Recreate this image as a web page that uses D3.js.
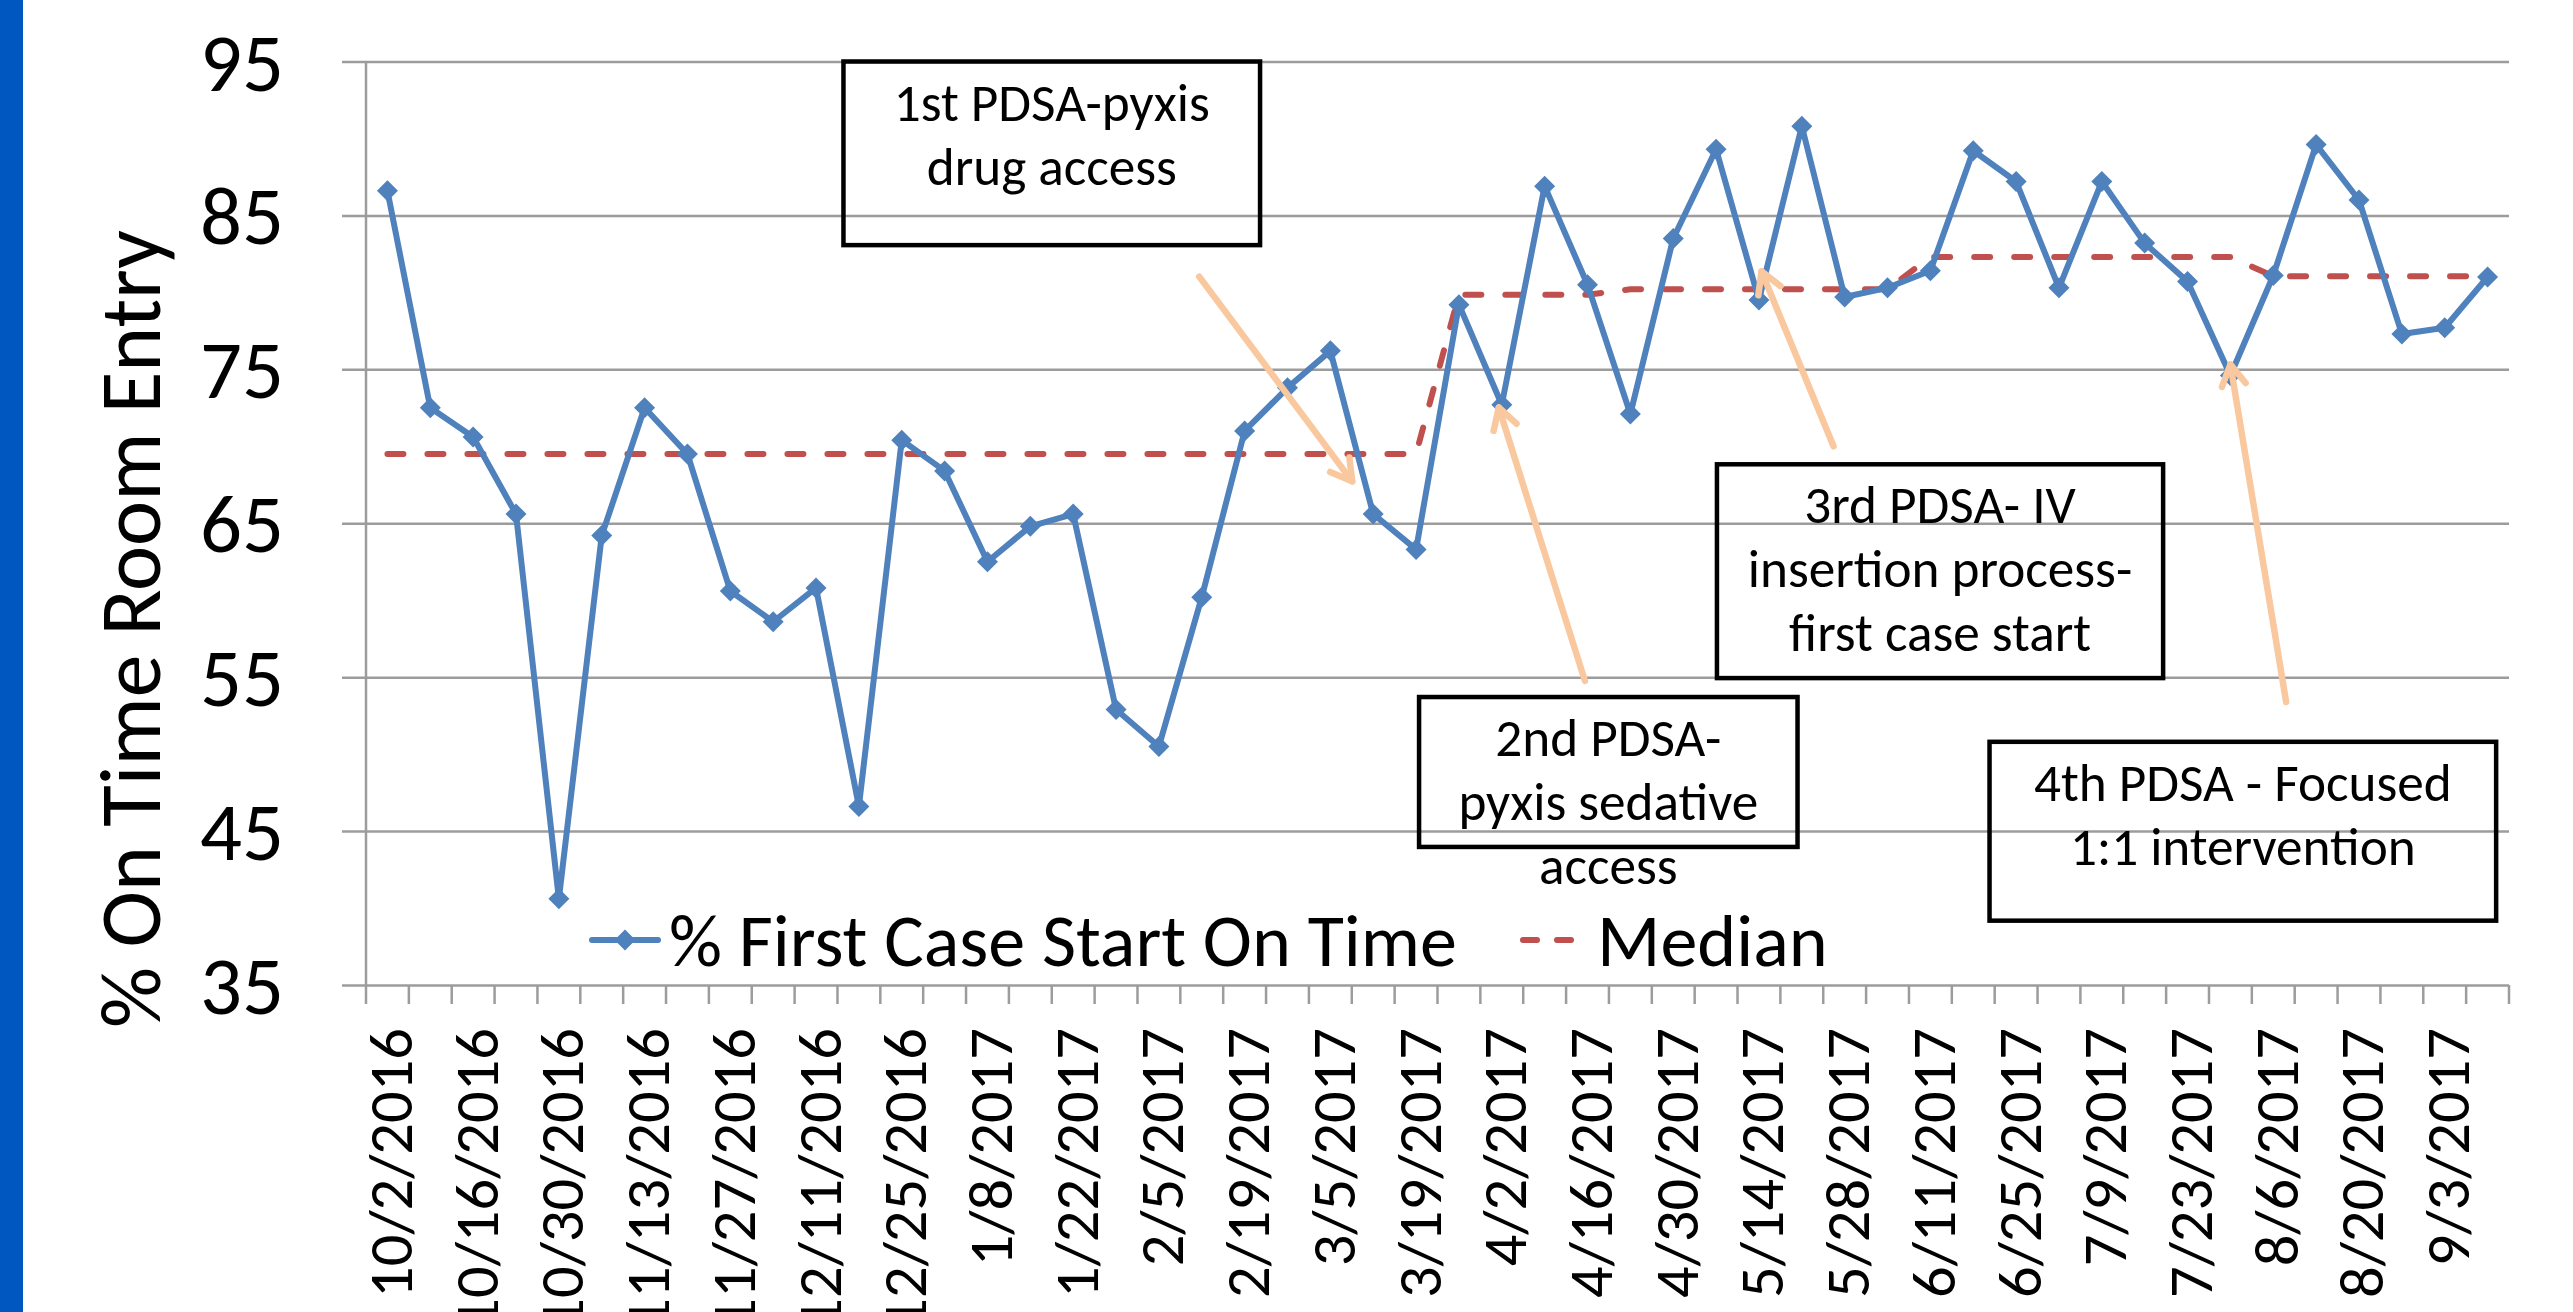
<!DOCTYPE html>
<html><head><meta charset="utf-8">
<script src="https://cdn.jsdelivr.net/npm/d3@7"></script>
<style>html,body{margin:0;padding:0;background:#fff;overflow:hidden}</style>
</head><body>
<svg id="chart" width="2573" height="1312"></svg>
<script>
// ---------------- data ----------------
const dates = ["10/2/2016","10/9/2016","10/16/2016","10/23/2016","10/30/2016","11/6/2016","11/13/2016","11/20/2016",
  "11/27/2016","12/4/2016","12/11/2016","12/18/2016","12/25/2016","1/1/2017","1/8/2017","1/15/2017","1/22/2017",
  "1/29/2017","2/5/2017","2/12/2017","2/19/2017","2/26/2017","3/5/2017","3/12/2017","3/19/2017","3/26/2017",
  "4/2/2017","4/9/2017","4/16/2017","4/23/2017","4/30/2017","5/7/2017","5/14/2017","5/21/2017","5/28/2017",
  "6/4/2017","6/11/2017","6/18/2017","6/25/2017","7/2/2017","7/9/2017","7/16/2017","7/23/2017","7/30/2017",
  "8/6/2017","8/13/2017","8/20/2017","8/27/2017","9/3/2017","9/10/2017"];
const onTime = [86.6,72.5,70.6,65.6,40.6,64.2,72.5,69.5,60.6,58.6,60.8,46.6,70.4,68.4,62.5,64.8,65.6,52.9,50.5,60.2,
  71.0,73.8,76.2,65.6,63.3,79.2,72.7,86.9,80.5,72.1,83.5,89.3,79.5,90.8,79.7,80.3,81.4,89.2,87.2,80.3,
  87.2,83.2,80.7,74.6,81.1,89.6,86.0,77.3,77.7,81.0];
const median = [69.5,69.5,69.5,69.5,69.5,69.5,69.5,69.5,69.5,69.5,69.5,69.5,69.5,69.5,69.5,69.5,69.5,69.5,69.5,69.5,
  69.5,69.5,69.5,69.5,69.5,79.85,79.85,79.85,79.85,80.2,80.2,80.2,80.2,80.2,80.2,80.2,82.3,82.3,82.3,82.3,
  82.3,82.3,82.3,82.3,81.05,81.05,81.05,81.05,81.05,81.05];
const yTicks = [35,45,55,65,75,85,95];
const seriesNames = ["% First Case Start On Time","Median"];
const yTitle = "% On Time Room Entry";
const noteTexts = [
  ["1st PDSA-pyxis","drug access"],
  ["2nd PDSA-","pyxis sedative","access"],
  ["3rd PDSA- IV","insertion process-","first case start"],
  ["4th PDSA - Focused","1:1 intervention"]
];

// ---------------- layout ----------------
const W = 2573, H = 1312;
const plot = {left: 366, right: 2509, top: 61.5, bottom: 985};
const FONT = "Carlito, Calibri, Lato, 'Open Sans', sans-serif";
const BLUE = "#4F81BD", RED = "#C0504D", GRID = "#9C9C9C", PEACH = "#FAC89E";
// annotation boxes in data space: [fromIndex, toIndex, topValue, bottomValue]
const noteBoxes = [[10.64,20.36,95.0,83.07],[24.07,32.90,53.71,43.97],[31.02,41.43,68.83,54.94],[37.38,49.20,50.80,39.18]];
// arrows in data space: [tailIndex, tailValue, tipIndex, tipValue]
const noteArrows = [[18.94,81.02,22.51,67.72],[27.94,54.76,25.93,72.52],[33.74,70.0,32.06,81.36],[44.3,53.39,43.0,75.32]];

const svg = d3.select("#chart");
svg.append("rect").attr("width",W).attr("height",H).attr("fill","#fff");
svg.append("rect").attr("x",0).attr("y",0).attr("width",23).attr("height",H).attr("fill","#0057BF");

function fit(str, target){
  const t = svg.append("text").attr("font-family",FONT).attr("font-size",100).text(str);
  const w = t.node().getComputedTextLength(); t.remove();
  return 100*target/w;
}

const x = d3.scaleBand().domain(dates).range([plot.left, plot.right]).padding(0);
const xi = d3.scaleLinear().domain([-0.5, dates.length-0.5]).range([plot.left, plot.right]);
const y = d3.scaleLinear().domain([35,95]).range([plot.bottom, plot.top]);
const xc = d => x(d) + x.bandwidth()/2;

// gridlines + y labels
const yFs = fit("85", 84);
const gy = svg.append("g").attr("transform",`translate(${plot.right},0)`)
  .call(d3.axisLeft(y).tickValues(yTicks).tickSize(plot.right-plot.left+24).tickPadding(58).tickFormat(d3.format("d")));
gy.select(".domain").remove();
gy.selectAll(".tick line").attr("stroke",GRID).attr("stroke-width",2.5);
gy.selectAll(".tick text").attr("font-family",FONT).attr("font-size",yFs).attr("fill","#000")
  .attr("dy",null).attr("dominant-baseline","central");

// y axis line
svg.append("line").attr("x1",plot.left).attr("x2",plot.left).attr("y1",plot.top).attr("y2",plot.bottom)
  .attr("stroke",GRID).attr("stroke-width",2.5);

// x tick marks at category boundaries
svg.append("g").selectAll("line").data(d3.range(dates.length+1)).join("line")
  .attr("x1",i=>xi(i-0.5)).attr("x2",i=>xi(i-0.5)).attr("y1",plot.bottom).attr("y2",plot.bottom+19)
  .attr("stroke",GRID).attr("stroke-width",2.5);

// x labels
const xFs = fit("2/19/2017", 270);
const gx = svg.append("g").attr("transform",`translate(0,${plot.bottom})`)
  .call(d3.axisBottom(x).tickValues(dates.filter((d,i)=>i%2===0)).tickSize(0));
gx.select(".domain").remove();
gx.selectAll(".tick text").attr("font-family",FONT).attr("font-size",xFs).attr("fill","#000")
  .attr("text-anchor","end").attr("transform","rotate(-90)")
  .attr("x",-43).attr("y",3.5).attr("dy",null).attr("dominant-baseline","central");

// y title
svg.append("text").attr("transform","rotate(-90)").attr("x",-629).attr("y",131)
  .attr("text-anchor","middle").attr("dominant-baseline","central")
  .attr("font-family",FONT).attr("font-size",fit(yTitle,798)).attr("fill","#000").text(yTitle);

// median
svg.append("path").datum(median)
  .attr("d", d3.line().x((d,i)=>xc(dates[i])).y(d=>y(d)))
  .attr("fill","none").attr("stroke",RED).attr("stroke-width",6)
  .attr("stroke-dasharray","16,24").attr("stroke-linecap","round");

// series
svg.append("path").datum(onTime)
  .attr("d", d3.line().x((d,i)=>xc(dates[i])).y(d=>y(d)))
  .attr("fill","none").attr("stroke",BLUE).attr("stroke-width",6).attr("stroke-linejoin","round");
const diamond = r => `M0,${-r}L${r},0L0,${r}L${-r},0Z`;
svg.append("g").selectAll("path").data(onTime).join("path")
  .attr("transform",(d,i)=>`translate(${xc(dates[i])},${y(d)})`)
  .attr("d",diamond(10.5)).attr("fill",BLUE);

// legend
const lgFs = fit(seriesNames[0], 788);
const lgY = 940;
svg.append("line").attr("x1",592).attr("x2",658).attr("y1",lgY).attr("y2",lgY)
  .attr("stroke",BLUE).attr("stroke-width",6).attr("stroke-linecap","round");
svg.append("path").attr("transform",`translate(625,${lgY})`).attr("d",diamond(10.5)).attr("fill",BLUE);
svg.append("text").attr("x",669).attr("y",lgY).attr("dominant-baseline","central")
  .attr("font-family",FONT).attr("font-size",lgFs).attr("fill","#000").text(seriesNames[0]);
svg.append("line").attr("x1",1523).attr("x2",1576).attr("y1",lgY).attr("y2",lgY)
  .attr("stroke",RED).attr("stroke-width",6).attr("stroke-dasharray","14,20").attr("stroke-linecap","round");
svg.append("text").attr("x",1597).attr("y",lgY).attr("dominant-baseline","central")
  .attr("font-family",FONT).attr("font-size",lgFs).attr("fill","#000").text(seriesNames[1]);

// annotation boxes
const nFs = fit(noteTexts[0][0], 316);
noteBoxes.forEach((b,k)=>{
  const x0 = xi(b[0]), x1 = xi(b[1]), y0 = y(b[2]), y1 = y(b[3]);
  svg.append("rect").attr("x",x0).attr("y",y0).attr("width",x1-x0).attr("height",y1-y0)
    .attr("fill","none").attr("stroke","#000").attr("stroke-width",4.5);
  const t = svg.append("text").attr("font-family",FONT).attr("font-size",nFs).attr("fill","#000")
    .attr("text-anchor","middle");
  noteTexts[k].forEach((s,j)=>{
    t.append("tspan").attr("x",(x0+x1)/2).attr("y",y0+59+j*64).text(s);
  });
});

// arrows
noteArrows.forEach(a=>{
  const tx = xi(a[0]), ty = y(a[1]), hx = xi(a[2]), hy = y(a[3]);
  const ang = Math.atan2(hy-ty, hx-tx), L = 24, sp = Math.PI/6;
  const g = svg.append("g").attr("stroke",PEACH).attr("stroke-width",6.5).attr("stroke-linecap","round")
    .attr("stroke-linejoin","round").attr("fill","none");
  g.append("line").attr("x1",tx).attr("y1",ty).attr("x2",hx).attr("y2",hy);
  g.append("path").attr("d",`M${hx-L*Math.cos(ang-sp)},${hy-L*Math.sin(ang-sp)}L${hx},${hy}L${hx-L*Math.cos(ang+sp)},${hy-L*Math.sin(ang+sp)}`);
});
</script>
</body></html>
